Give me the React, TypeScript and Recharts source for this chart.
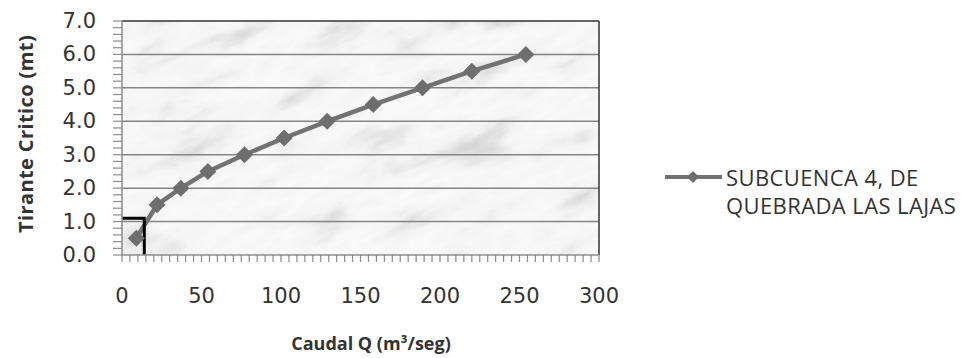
import React from 'react';
import { LineChart, Line, XAxis, YAxis, CartesianGrid, ReferenceLine, Legend } from 'recharts';

const seriesName = 'SUBCUENCA 4, DE\nQUEBRADA LAS LAJAS';
const caudalQ = [9, 22, 37, 54, 77, 102, 129, 158, 189, 220, 254];
const tiranteY = [0.5, 1.5, 2.0, 2.5, 3.0, 3.5, 4.0, 4.5, 5.0, 5.5, 6.0];
const markQ = [0, 14, 14];
const markY = [1.1, 1.1, 0];
const xMajor = [0, 50, 100, 150, 200, 250, 300];
const xTicks = Array.from({ length: 61 }, (_, i) => i * 5);
const yGrid = [1, 2, 3, 4, 5, 6];
const yTicks = Array.from({ length: 36 }, (_, i) => +(i * 0.2).toFixed(1));

const chartData = caudalQ.map((q, i) => ({ q, y: tiranteY[i] }));
const markData = markQ.map((q, i) => ({ q, m: markY[i] }));

const TXT = '#333333';
const AX = '#8c8c8c';
const FONT = '"DejaVu Sans", Verdana, sans-serif';
const TFONT = '"Open Sans", "Noto Sans", sans-serif';

function XTick(props: any) {
  const { x, y, payload } = props;
  const v = payload.value;
  if (!xMajor.includes(v)) return <g />;
  return (
    <text x={x} y={y + 34} textAnchor="middle" dominantBaseline="central" fill={TXT} fontFamily={FONT} fontSize={21}>
      {v}
    </text>
  );
}

function YTick(props: any) {
  const { x, y, payload } = props;
  const v = payload.value;
  const major = Math.abs(v - Math.round(v)) < 1e-6;
  if (!major) return <g />;
  return (
    <text x={x - 17} y={y} textAnchor="end" dominantBaseline="central" fill={TXT} fontFamily={FONT} fontSize={21}>
      {v.toFixed(1)}
    </text>
  );
}

function Diamond(props: any) {
  const { cx, cy } = props;
  if (cx == null || cy == null) return null;
  const r = 8.5;
  return <polygon points={`${cx},${cy - r} ${cx + r},${cy} ${cx},${cy + r} ${cx - r},${cy}`} fill="#6e6e6e" />;
}

function YTitle(props: any) {
  const vb = props.viewBox || {};
  const cy = (vb.y || 0) + (vb.height || 0) / 2 - 4;
  const cx = 25;
  return (
    <text x={cx} y={cy} transform={`rotate(-90 ${cx} ${cy})`} textAnchor="middle" dominantBaseline="central" fill={TXT} fontFamily={TFONT} fontWeight={700} fontSize={20} letterSpacing={0.4}>
      Tirante Critico (mt)
    </text>
  );
}

function XTitle() {
  return (
    <text x={371} y={343} textAnchor="middle" dominantBaseline="central" fill={TXT} fontFamily={TFONT} fontWeight={700} fontSize={18}>
      Caudal Q (m³/seg)
    </text>
  );
}

function LegendContent(props: any) {
  const item = (props.payload || []).find((p: any) => p.value === seriesName);
  if (!item) return null;
  return (
    <div style={{ display: 'flex', alignItems: 'flex-start' }}>
      <svg width={62} height={28} style={{ flex: 'none' }}>
        <line x1={3} x2={60} y1={14} y2={14} stroke="#727272" strokeWidth={4} />
        <polygon points="31,8 37,14 31,20 25,14" fill="#6e6e6e" />
      </svg>
      <div style={{ whiteSpace: 'pre-line', fontFamily: TFONT, fontSize: 22, lineHeight: '28px', letterSpacing: 0.4, color: TXT, marginLeft: 2 }}>
        {item.value}
      </div>
    </div>
  );
}

export default function App() {
  return (
    <div style={{ position: 'absolute', left: 0, top: 0, width: 961, height: 358, background: '#fff' }}>
      <LineChart width={961} height={358} data={chartData} margin={{ top: 21, right: 362, bottom: 0, left: 0 }}>
        <defs>
          <filter id="marbleF" x="0" y="0" width="100%" height="100%">
            <feTurbulence type="fractalNoise" baseFrequency="0.012 0.035" numOctaves={5} seed={23} stitchTiles="stitch" result="n" />
            <feColorMatrix in="n" type="matrix" values="0.33 0.33 0.33 0 0  0.33 0.33 0.33 0 0  0.33 0.33 0.33 0 0  0 0 0 0 1" result="g" />
            <feComponentTransfer in="g">
              <feFuncR type="table" tableValues="0.5 0.55 0.62 0.76 0.9 0.95 0.9 0.8 0.65 0.55" />
              <feFuncG type="table" tableValues="0.5 0.55 0.62 0.76 0.9 0.95 0.9 0.8 0.65 0.55" />
              <feFuncB type="table" tableValues="0.5 0.55 0.62 0.76 0.9 0.95 0.9 0.8 0.65 0.55" />
            </feComponentTransfer>
          </filter>
          <pattern id="marble" patternUnits="userSpaceOnUse" x={0} y={0} width={1400} height={1400} patternTransform="rotate(-25)">
            <rect x={0} y={0} width={1400} height={1400} filter="url(#marbleF)" />
          </pattern>
        </defs>
        <CartesianGrid horizontal={false} vertical={false} fill="url(#marble)" fillOpacity={1} />
        {yGrid.map((v) => (
          <ReferenceLine key={v} y={v} stroke="#858585" strokeWidth={1.5} />
        ))}
        <XAxis
          dataKey="q"
          type="number"
          domain={[0, 300]}
          ticks={xTicks}
          interval={0}
          tickLine={{ stroke: AX, strokeWidth: 1.2 }}
          tickSize={7}
          tickMargin={0}
          tick={<XTick />}
          height={103}
          axisLine={{ stroke: AX, strokeWidth: 1.5 }}
          allowDataOverflow
          label={<XTitle />}
        />
        <YAxis
          type="number"
          domain={[0, 7]}
          ticks={yTicks}
          interval={0}
          tickLine={{ stroke: AX, strokeWidth: 1.2 }}
          tickSize={9}
          tickMargin={0}
          tick={<YTick />}
          width={122}
          axisLine={{ stroke: AX, strokeWidth: 1.5 }}
          allowDataOverflow
          label={<YTitle />}
        />
        <ReferenceLine y={7} stroke="#333" strokeWidth={1.5} />
        <ReferenceLine x={300} stroke="#333" strokeWidth={1.5} />
        <Line
          name={seriesName}
          dataKey="y"
          type="linear"
          stroke="#727272"
          strokeWidth={4.5}
          dot={<Diamond />}
          activeDot={false}
          isAnimationActive={false}
        />
        <Line
          data={markData}
          dataKey="m"
          type="linear"
          stroke="#000"
          strokeWidth={3}
          dot={false}
          activeDot={false}
          legendType="none"
          isAnimationActive={false}
        />
        <Legend
          layout="horizontal"
          align="center"
          verticalAlign="middle"
          content={<LegendContent />}
          wrapperStyle={{ position: 'absolute', left: 662, top: 163, width: 299, height: 60 }}
        />
      </LineChart>
    </div>
  );
}
